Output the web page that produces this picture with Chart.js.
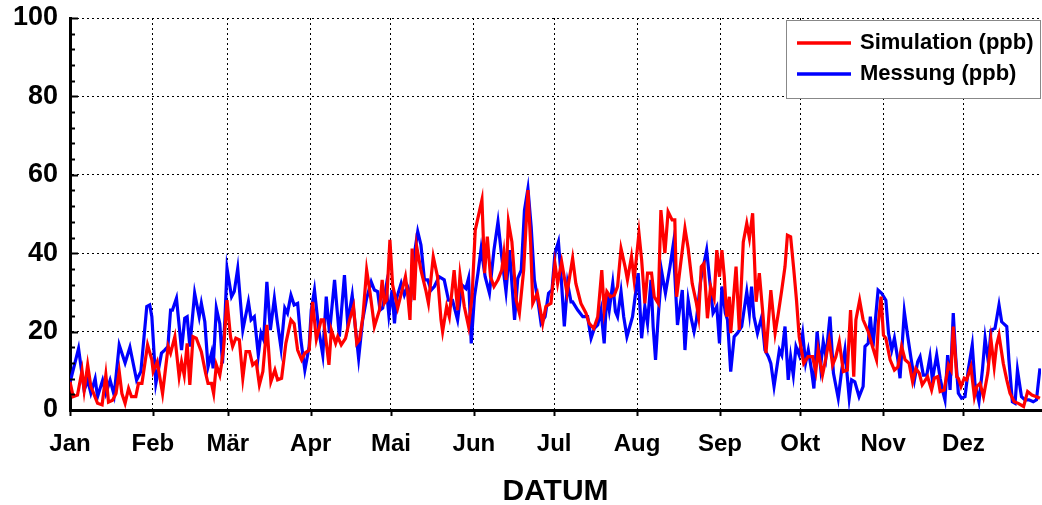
<!DOCTYPE html>
<html>
<head>
<meta charset="utf-8">
<script src="https://cdn.jsdelivr.net/npm/chart.js@4.4.1/dist/chart.umd.min.js"></script>
<style>
  html, body { margin: 0; padding: 0; background: #fff; }
  #wrap { width: 1042px; height: 505px; }
</style>
</head>
<body>
<div id="wrap"><canvas id="chart"></canvas></div>
<script>
// Monate (Tag im Jahr des Monatsanfangs)
const monthStarts = [0, 31, 59, 90, 120, 151, 181, 212, 243, 273, 304, 334];
const monthLabels = ["Jan", "Feb", "Mär", "Apr", "Mai", "Jun", "Jul", "Aug", "Sep", "Okt", "Nov", "Dez"];
const yTicks = [0, 20, 40, 60, 80, 100];

// Simulation (ppb) - Tag im Jahr / Wert
const simDays = [0, 1.2, 2.8, 4.5, 5.3, 6.6, 7.8, 9.1, 10.3, 12, 13.4, 14.4, 15.9, 17.2, 18.4, 19.4, 20.6, 21.9, 23, 24.6, 25.6, 26.9, 29, 30.6,
  31.1, 32.6, 34.6, 36.7, 37.6, 39.2, 40.8, 41.7, 42.7, 43.8, 44.8, 46, 47.2, 49.1, 50.7, 51.6, 52.9, 53.7, 54.7, 56, 56.6, 57.4, 58.7,
  60, 60.8, 62, 63.3, 64.6, 65.8, 67.1, 68.3, 69.6, 70.8, 72.1, 73.6, 75.1, 76.6, 77.6, 79.1, 80.7, 82.6, 83.8, 85.1, 86.6, 87.8, 89.4, 90.7,
  92.1, 93.9, 94.8, 96.8, 97.7, 99.3, 100.1, 101.4, 103, 104.5, 106, 107.2, 108.2, 109.5, 110.9, 112.2, 113.8, 115.7, 116.7, 117.5, 118.4, 119.6, 120.6,
  122.5, 125.4, 126.2, 127.1, 127.9, 128.7, 129.6, 131.2, 133, 134, 135.8, 137.4, 138.7, 139.3, 140.8, 141.8, 143.6, 144.9, 145.8, 147.4, 149,
  150.3, 151.5, 154, 155, 156, 157.2, 158.5, 160, 161.4, 162.2, 163, 163.9, 165.2, 166.8, 168, 169.6, 171.2, 172.2, 173, 174.7, 176.7, 177.9, 179.8,
  181.3, 182.3, 183.8, 185.8, 187.9, 189.1, 191, 192.9, 194.1, 195.8, 197.3, 198.8, 199.7, 200.7, 202, 203.5, 204.7, 206, 207.5, 208.4, 209.9, 210.9, 212.7,
  213.7, 214.9, 215.9, 217.4, 218.4, 219.9, 220.9, 222.4, 223.6, 225.1, 226.1, 226.8, 228, 229.9, 231.1, 232.6, 234.2, 235, 236, 237, 238.3, 239.5, 240.8,
  241.8, 242.8, 243.7, 244.6, 245.5, 246.5, 247, 249, 250.2, 251.7, 253, 254, 255.2, 256.5, 257.7, 259, 260.2, 262, 263.6, 264.8, 266, 267.3, 268.2, 269.4, 270.6,
  271.6, 272.6, 274.3, 275.9, 277.6, 278.8, 279.7, 281.3, 282.2, 283.8, 285.1, 286.3, 287.6, 289.1, 290.6, 291.8, 293, 293.8, 295.2, 296.5, 298.4, 300, 301.5,
  302.2, 303.2, 304.1, 305, 306.6, 308.2, 309.5, 310.9, 312.2, 313.7, 315, 316.2, 317.5, 318.6, 320.6, 322.1, 323.1, 324.4, 325.3, 326.8, 328.4, 329.4, 330.2, 331.5,
  332.1, 333.1, 334.3, 335.2, 336.8, 338.1, 339, 340.2, 341.5, 343.1, 344.3, 345.5, 346.4, 347.3, 348.9, 350.2, 351.4, 353, 354.5, 356.5, 358, 359.6, 361.3, 362.6];
const simValues = [7.2, 3.4, 3.8, 10, 5, 11.5, 6, 3.8, 1.7, 1.3, 9, 2, 2.5, 4.2, 9.8, 4.2, 1.7, 5.5, 3.4, 3.4, 6.8, 6.8, 16.6, 12.8,
  9.8, 12.3, 4.2, 16.2, 14.5, 18.7, 8.5, 12.3, 8.9, 17, 6.4, 18.7, 18.3, 14.9, 9.4, 6.8, 6.8, 4.2, 11.5, 8.9, 11.5, 15.7, 28,
  18.7, 16.2, 18.3, 17.9, 8.1, 14.9, 14.9, 11.5, 12.3, 6.4, 9.8, 21.7, 7.2, 10.2, 7.7, 8.1, 17, 23, 22, 15.3, 12.8, 14.5, 15.3, 27.6,
  18, 23, 23, 11.5, 20.4, 17, 18.7, 16.6, 18.3, 23, 26.4, 17, 17.9, 23.8, 35.7, 29.8, 21.3, 25.5, 33.2, 27.2, 28, 43.4, 31.9,
  26, 34, 29.8, 23, 41.2, 28, 41.7, 35.7, 30.6, 27.2, 39.1, 34, 23, 20, 26.4, 23.8, 35.7, 25.5, 34.4, 26.4, 21.3,
  28.9, 45.9, 53.6, 34.9, 44.2, 34, 31.5, 33.2, 35.7, 40, 33.2, 48, 42.9, 28, 24.7, 35.7, 56.1, 42.5, 27.2, 29.8, 22.1, 26.4, 27.2,
  37.4, 32.3, 37.8, 29.8, 38.7, 32.3, 27.2, 24.7, 22.1, 20.8, 23.8, 35.7, 25.5, 30.2, 28.9, 29.3, 31.5, 41.2, 36.6, 33.2, 39.1, 33.2, 45.1,
  38.3, 27.2, 34.9, 34.9, 28.9, 27.2, 51, 40, 50.6, 48.5, 48.5, 28.9, 35.7, 46.3, 41.2, 32.3, 27.2, 23.8, 36.6, 37.4, 23.4, 31.5, 28.5,
  40.8, 34, 40.8, 34, 23.8, 28.9, 19.6, 36.6, 20.4, 42.9, 47.6, 43.8, 50.2, 27.6, 34.9, 24.7, 14.5, 30.6, 19.6, 24.7, 30.2, 36.6, 44.6, 44.2, 35.7,
  28, 18.7, 11.9, 13.6, 13.6, 9.8, 15.3, 8.9, 11.9, 17.9, 11.5, 13.6, 17.4, 9.8, 10.2, 25.5, 8.5, 23, 28, 23, 20, 16.2, 12.8,
  22.1, 28.9, 19.1, 18.3, 12.8, 10.2, 11, 16.2, 12.8, 11.9, 7.2, 10.6, 9.4, 6.4, 8.5, 5.1, 8.1, 8.5, 4.7, 5.1, 11.5, 10.2, 21.3, 8.5,
  8.1, 6, 8.1, 7.7, 11, 3.4, 6, 6.8, 3.4, 9.4, 17.9, 11, 16.6, 19.1, 11.9, 7.7, 4.3, 2.1, 1.7, 0.9, 4.7, 3.8, 3.4, 3];

// Messung (ppb) - Tag im Jahr / Wert
const messDays = [0, 3.2, 5.3, 6.6, 7.8, 9.4, 10.3, 12.2, 13.4, 15, 16.5, 18.4, 20.6, 22.4, 24.9, 26.5, 28.7, 29.8, 30.6,
  32.1, 34.2, 35.4, 36.6, 37.6, 38.3, 39.8, 41.7, 42.9, 43.8, 44.8, 46.6, 48.3, 49.1, 50.4, 51.6, 52.9, 53.5, 54.7, 56, 57, 57.9, 58.7,
  60.4, 61.4, 62.7, 64.6, 66.7, 67.7, 68.9, 70.4, 71.4, 72.4, 73.6, 74.9, 76.4, 77.4, 78.9, 80.3, 81.3, 82.6, 83.8, 85.1, 86.3, 87.8, 89.4, 90.2,
  91.4, 93, 94.5, 95.8, 97, 98.9, 100.7, 102.6, 103.8, 105.5, 106.4, 107.9, 109.4, 110.9, 112.6, 113.8, 115, 115.9, 116.9, 118.2, 119.2, 120.4,
  121.3, 122.1, 123.8, 125, 126.2, 127.5, 128.4, 130, 131.2, 132.5, 133.7, 135, 136.2, 138, 139.9, 141.5, 143, 144.9, 146.5, 148, 149,
  150, 151.2, 152.5, 153.7, 155.2, 156.8, 158.5, 160, 161.4, 163, 164.3, 166.2, 167.4, 168.7, 169.9, 171.2, 172.4, 173.6, 174.9, 176.1, 177.6, 178.9,
  180.2, 181.3, 182.6, 183.6, 184.8, 186, 187.3, 187.9, 189.8, 191.7, 193.5, 194.8, 196, 197.3, 198.5, 199.7, 200.7, 201.6, 202.9, 203.9, 204.7, 206, 207, 208.2, 210.3,
  212.4, 213.7, 214.9, 215.9, 217.2, 218, 218.9, 219.9, 221.2, 222.6, 224.3, 225.5, 227.1, 228.9, 229.9, 231.1, 232.1, 233.3, 234.2, 235.8, 238, 239.2, 240.4,
  241.8, 242.8, 243.7, 245, 245.8, 247, 248.3, 249.5, 251.1, 253, 254, 254.8, 255.7, 257, 258.6, 259.8, 261.1, 262, 263.2, 265.2, 266.1, 267.3, 268.5, 269.4, 270.4, 271.4, 272.6, 273.9,
  275, 276, 277.2, 278.1, 279.3, 280.6, 281.6, 282.6, 284.1, 285.4, 287.2, 288.5, 289.7, 291.3, 292.2, 293.4, 295, 296.5, 297.2, 298.4, 299.2, 300.2, 302.1,
  303.4, 305, 306, 307.2, 308.2, 309.5, 310.3, 311.9, 313.2, 314.4, 315.7, 316.9, 317.8, 319, 320.3, 321.5, 322.4, 324, 325.3, 326.5, 327.1, 328.1, 329, 330.2, 331.1,
  332.1, 333.3, 334.6, 335.8, 337.3, 338.3, 339.8, 341.1, 342.1, 343.3, 344.3, 345.8, 347.3, 348.3, 350.2, 351, 352.3, 353.3, 354.2, 355.7, 357, 358.5, 360.1, 361.3, 362.6];
const messValues = [7, 15.7, 5, 7.6, 4.3, 8, 3.4, 7.6, 4.2, 7.6, 3.8, 16.6, 12, 16, 7.6, 9.8, 26.4, 26.8, 23.8,
  6.8, 14.5, 15.3, 16.2, 25.5, 25.5, 28.5, 15.3, 23.4, 23.8, 16.2, 29.8, 23.8, 27.2, 22.5, 11, 14.5, 10.6, 26, 22, 11.9, 23, 36.1,
  28.9, 30.2, 36.1, 20.4, 27.6, 23, 23.8, 14, 19.6, 17.9, 32.7, 20.4, 28.5, 23, 15.7, 26, 24.7, 29.3, 26.8, 27.2, 17.9, 10.2, 16.2, 25.5,
  30.6, 20.4, 14, 28.9, 19.6, 33.2, 18.7, 34.4, 22.1, 29.3, 23, 13.2, 23, 28.5, 32.7, 30.6, 30.2, 25.5, 26, 31.5, 24.2, 30.6,
  22.1, 28.5, 32.3, 29.3, 31.5, 29.3, 38.3, 45.5, 42.1, 33.2, 33.2, 30.6, 31.5, 34, 33.2, 28, 28, 23, 31.9, 31, 33.6,
  17, 28.9, 34.9, 41.2, 34, 29.8, 40.8, 48, 39.1, 30.2, 40.8, 23, 33.6, 35.7, 51, 56.5, 46.8, 33.2, 28, 22.1, 23.8, 29.8,
  30.6, 40, 42.9, 34, 21.3, 32.3, 27.6, 27.6, 25.5, 23.8, 23.8, 18.3, 20.8, 21.7, 25.5, 17, 29.8, 25.5, 32.3, 25.1, 23.8, 30.2, 23.8, 18.7, 23.8,
  34.9, 18.3, 26.4, 22.1, 33.2, 21.3, 12.8, 23.8, 35.3, 29.8, 36.6, 42.1, 21.7, 30.6, 15.3, 28, 23.8, 20, 23, 33.2, 40.8, 32.7, 24.7,
  26.4, 17, 31.5, 24.7, 23, 9.8, 18.7, 19.6, 21.3, 30.2, 24.7, 31.5, 23.8, 19.6, 23.8, 15.3, 13.6, 11.9, 6, 15.3, 14, 21.3, 7.7, 13.6, 8.9, 16.2, 14, 19.5,
  12, 15.3, 10.2, 5.5, 20, 11, 17.4, 13.6, 23.8, 9.4, 3, 10.2, 15.3, 3, 7.7, 7.2, 3.4, 6, 16.2, 17, 23.8, 16.2, 30.6,
  29.8, 28, 19.6, 15.3, 18.3, 12.8, 8.1, 25.1, 18.7, 13.2, 7.7, 12.3, 13.6, 8.9, 8.9, 13.6, 7.7, 14, 8.1, 4.2, 2.6, 14, 5.1, 24.7, 13.6,
  4.3, 3, 3.4, 10.2, 16.6, 6.8, 2.1, 10.2, 18.3, 12.3, 20.4, 20.8, 26.8, 22.5, 21.3, 12.8, 2.1, 1.7, 10.2, 3.4, 2.6, 2.6, 2.1, 2.6, 10.6];

const FONT = '"Liberation Sans", Arial, sans-serif';
const toPoints = (days, vals) => days.map((d, i) => ({ x: d, y: vals[i] }));

// Achsen-Striche (innen an der y-Achse, aussen an der x-Achse)
const axisTicks = {
    id: "axisTicks",
    afterDatasetsDraw(chart) {
        const { ctx, chartArea, scales } = chart;
        ctx.save();
        ctx.strokeStyle = "#000";
        ctx.lineWidth = 2;
        for (let v = 0; v <= 100; v += 4) {
            const y = Math.round(scales.y.getPixelForValue(v)) + 0.5;
            const len = v % 20 === 0 ? 8 : 5;
            ctx.beginPath();
            ctx.moveTo(chartArea.left, y);
            ctx.lineTo(chartArea.left + len, y);
            ctx.stroke();
        }
        monthStarts.forEach((d) => {
            const x = Math.round(scales.x.getPixelForValue(d)) + 0.5;
            ctx.beginPath();
            ctx.moveTo(x, chartArea.bottom);
            ctx.lineTo(x, chartArea.bottom + 6);
            ctx.stroke();
        });
        ctx.restore();
    },
};

// Legende im Kasten oben rechts
const boxLegend = {
    id: "boxLegend",
    afterDraw(chart) {
        const { ctx } = chart;
        const x0 = 786, y0 = 20, w = 254, h = 78;
        ctx.save();
        ctx.fillStyle = "#fff";
        ctx.fillRect(x0, y0, w, h);
        ctx.strokeStyle = "#888";
        ctx.lineWidth = 1;
        ctx.strokeRect(x0 + 0.5, y0 + 0.5, w, h);
        ctx.font = "bold 22px " + FONT;
        ctx.textBaseline = "middle";
        chart.data.datasets.forEach((ds, i) => {
            const y = y0 + 23 + i * 31;
            ctx.strokeStyle = ds.borderColor;
            ctx.lineWidth = 3.5;
            ctx.beginPath();
            ctx.moveTo(x0 + 11, y);
            ctx.lineTo(x0 + 65, y);
            ctx.stroke();
            ctx.fillStyle = "#000";
            ctx.fillText(ds.label, x0 + 74, y);
        });
        ctx.restore();
    },
};

new Chart(document.getElementById("chart"), {
    type: "scatter",
    data: {
        datasets: [{
                label: "Simulation (ppb)",
                data: toPoints(simDays, simValues),
                borderColor: "#ff0000",
                backgroundColor: "#ff0000",
                showLine: true,
                borderWidth: 3.2,
                pointRadius: 0,
                tension: 0,
            },
            {
                label: "Messung (ppb)",
                data: toPoints(messDays, messValues),
                borderColor: "#0000ff",
                backgroundColor: "#0000ff",
                showLine: true,
                borderWidth: 3.2,
                pointRadius: 0,
                tension: 0,
            },
        ],
    },
    options: {
        responsive: true,
        maintainAspectRatio: false,
        animation: false,
        layout: { padding: { top: 18, right: 1, left: 0, bottom: 0 } },
        plugins: {
            legend: { display: false },
            tooltip: { enabled: false },
        },
        scales: {
            x: {
                type: "linear",
                min: 0,
                max: 363,
                afterBuildTicks: (scale) => {
                    scale.ticks = monthStarts.map((v) => ({ value: v }));
                },
                afterFit: (scale) => {
                    scale.height = 95;
                    scale.paddingLeft = 0;
                    scale.paddingRight = 0;
                },
                ticks: {
                    autoSkip: false,
                    maxRotation: 0,
                    padding: 20,
                    color: "#000",
                    font: { family: FONT, size: 24, weight: "bold" },
                    callback: (v) => monthLabels[monthStarts.indexOf(v)],
                },
                grid: { color: "#000", lineWidth: 1, drawTicks: false },
                border: { color: "#000", width: 3, dash: [2, 3] },
                title: {
                    display: true,
                    text: "DATUM",
                    color: "#000",
                    font: { family: FONT, size: 30, weight: "bold" },
                    padding: { top: 0, bottom: -5 },
                },
            },
            y: {
                min: 0,
                max: 100,
                afterBuildTicks: (scale) => {
                    scale.ticks = yTicks.map((v) => ({ value: v }));
                },
                afterFit: (scale) => {
                    scale.width = 70;
                    scale.paddingTop = 0;
                    scale.paddingBottom = 0;
                },
                ticks: {
                    padding: 12,
                    color: "#000",
                    font: { family: FONT, size: 27, weight: "bold" },
                },
                grid: { color: "#000", lineWidth: 1, drawTicks: false },
                border: { color: "#000", width: 3, dash: [2, 3] },
            },
        },
    },
    plugins: [axisTicks, boxLegend],
});
</script>
</body>
</html>
